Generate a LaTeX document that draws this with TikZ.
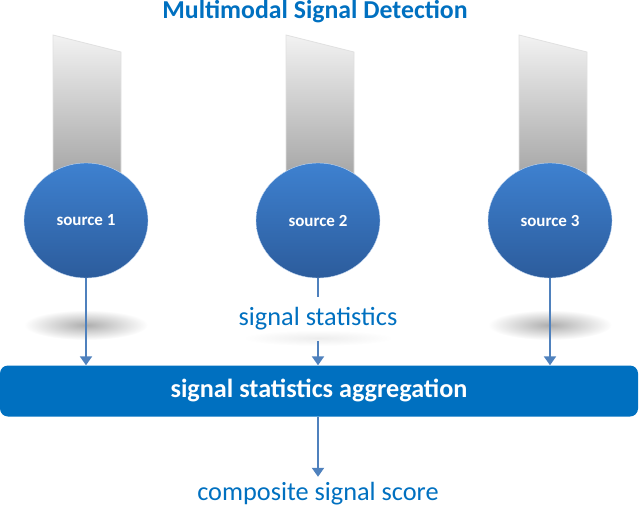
\documentclass[tikz,border=0pt]{standalone}
\usepackage{fontspec}
\setmainfont{Carlito}
\usetikzlibrary{arrows.meta,shapes.geometric}
\definecolor{tblue}{RGB}{0,112,192}
\definecolor{abl}{RGB}{79,129,189}
\definecolor{ctop}{RGB}{62,129,208}
\definecolor{cbot}{RGB}{44,92,156}
\tikzset{
  src/.style={ellipse, minimum width=124pt, minimum height=115pt, inner sep=0pt, top color=ctop, bottom color=cbot, draw=white!70!ctop, line width=0.4pt, text=white, font=\fontsize{17}{20}\selectfont\bfseries},
  bar/.style={top color=black!5, bottom color=black!40, draw=black!12, line width=0.8pt},
  shad/.style={inner color=black!32, outer color=white},
  conn/.style={abl, line width=2pt, -{Triangle[width=12pt,length=9pt]}},
  plain/.style={abl, line width=2pt},
  lbl/.style={text=tblue, inner sep=0pt, font=\fontsize{26.3}{30}\selectfont}
}
\begin{document}
\begin{tikzpicture}[x=1pt,y=-1pt]
\useasboundingbox (0,0) rectangle (640,506);
\node[text=tblue, anchor=base, inner sep=0pt, font=\fontsize{25.8}{30}\selectfont\bfseries] (title) at (315,18) {Multimodal Signal Detection};
% bars
\foreach \x in {53,286,519}{
  \shade[bar] (\x,35) -- (\x+68,52) -- (\x+68,200) -- (\x,200) -- cycle;
}
% shadows
\shade[shad] (86,325) ellipse [x radius=62pt, y radius=15pt];
\shade[shad] (550,325) ellipse [x radius=62pt, y radius=15pt];
\shade[inner color=black!7, outer color=white] (318,338) ellipse [x radius=75pt, y radius=8pt];
% circles
\node[src] (s1) at (86,220.5) {source 1};
\node[src] (s2) at (318,220.5) {source 2};
\node[src] (s3) at (550,220.5) {source 3};
% box
\node[fill=tblue, rounded corners=8pt, minimum width=638pt, minimum height=51pt, inner sep=0pt, text=white, font=\fontsize{26.2}{30}\selectfont\bfseries] (agg) at (319,391) {signal statistics aggregation};
\node[lbl, minimum height=44pt] (stats) at (318,319) {signal statistics};
\node[lbl, minimum height=34pt] (score) at (318,494) {composite signal score};
% connectors
\draw[conn] (s1.south) -- (s1.south |- agg.north);
\draw[conn] (s3.south) -- (s3.south |- agg.north);
\draw[plain] (s2.south) -- (stats.north);
\draw[conn] (stats.south) -- (stats.south |- agg.north);
\draw[conn] (agg.south -| score.north) -- (score.north);
\end{tikzpicture}
\end{document}
